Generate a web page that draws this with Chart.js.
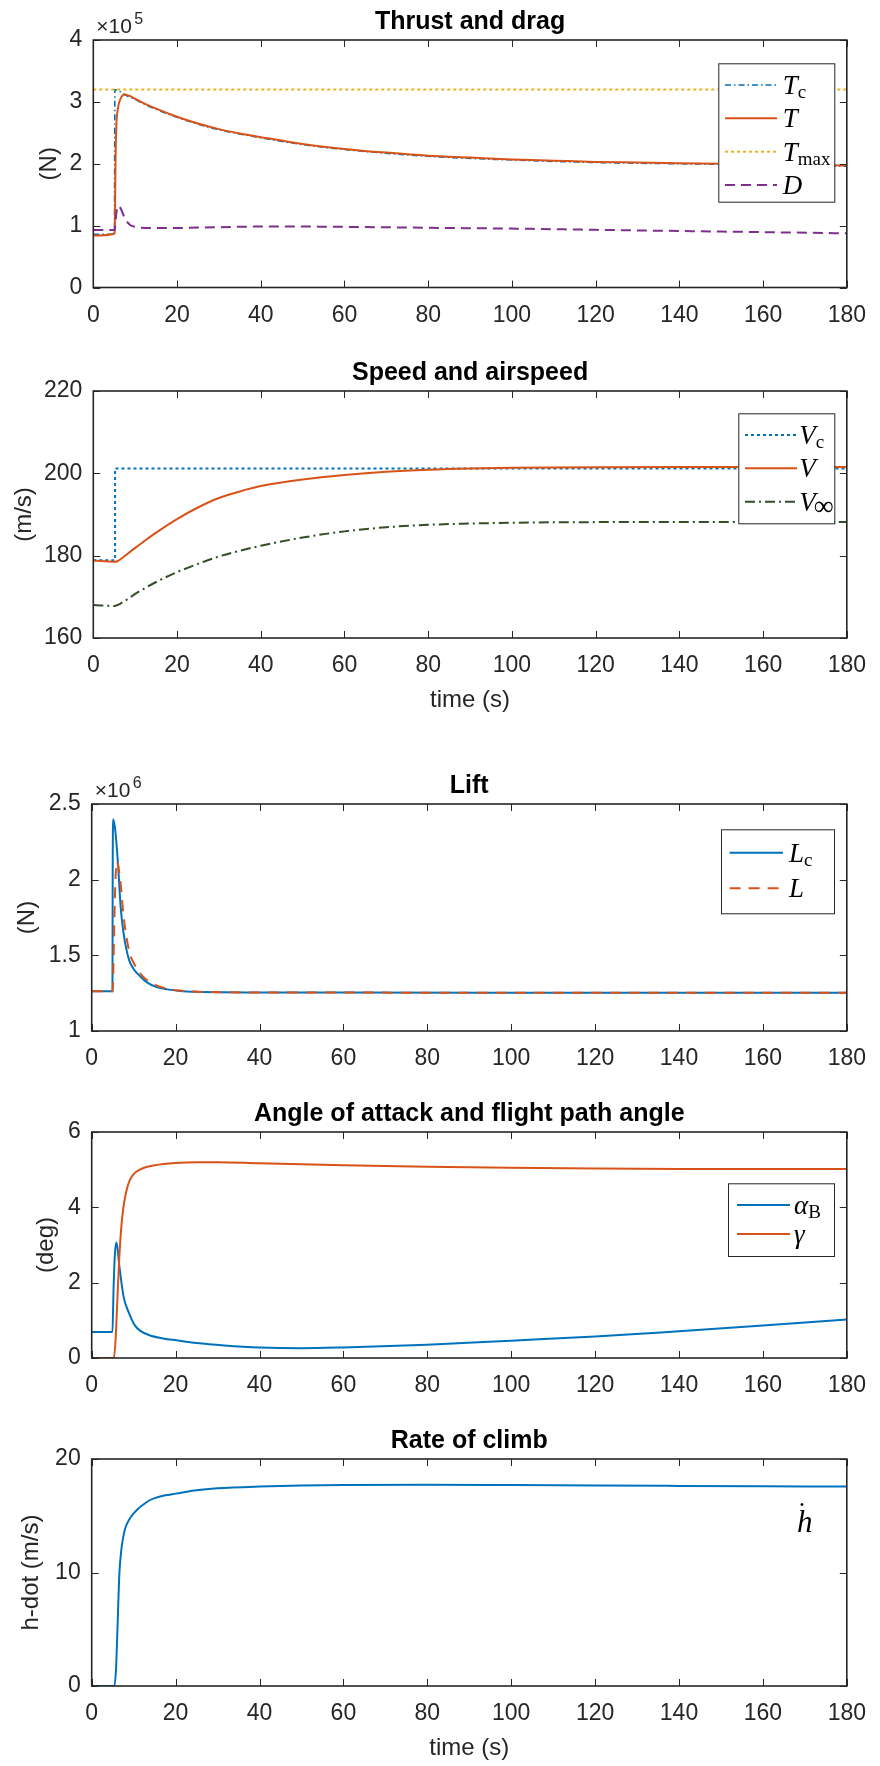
<!DOCTYPE html>
<html>
<head>
<meta charset="utf-8">
<title>Climb response</title>
<script src="https://cdn.jsdelivr.net/npm/chart.js@4.4.1/dist/chart.umd.min.js"></script>
<style>
  html, body { margin: 0; padding: 0; background: #fff; }
  body { width: 880px; height: 1766px; position: relative; overflow: hidden; }
  canvas { position: absolute; left: 0; }
</style>
</head>
<body>
<canvas id="thrust"></canvas>
<canvas id="speed"></canvas>
<canvas id="lift"></canvas>
<canvas id="angles"></canvas>
<canvas id="climb"></canvas>
<script>
/* ---- shared ticks ---- */
const timeTicks = [0, 20, 40, 60, 80, 100, 120, 140, 160, 180];

/* ---- Thrust and drag (x1e5 N) ---- */
const thrustTicks = [0, 1, 2, 3, 4];
const tThrustCmd = [0, 5.05, 5.15, 5.6, 6.3, 7, 8, 10, 12, 15, 20, 25, 30, 40, 50, 60, 80, 100, 120, 140, 160, 180];
const thrustCmd  = [0.86, 0.86, 3.20, 3.19, 3.17, 3.14, 3.10, 3.04, 2.97, 2.88, 2.75, 2.64, 2.55, 2.42, 2.31, 2.23, 2.12, 2.06, 2.02, 2.00, 1.98, 1.96];
const tThrust = [0, 5.1, 5.15, 5.3, 5.5, 5.9, 6.5, 7.5, 8.5, 10, 12, 15, 20, 25, 30, 35, 40, 50, 60, 70, 80, 90, 100, 110, 120, 130, 140, 150, 160, 170, 180];
const thrust  = [0.84, 0.87, 1.0, 2.0, 2.6, 2.9, 3.05, 3.12, 3.10, 3.05, 2.98, 2.89, 2.76, 2.65, 2.56, 2.49, 2.43, 2.32, 2.24, 2.18, 2.13, 2.10, 2.07, 2.05, 2.03, 2.02, 2.01, 2.00, 1.99, 1.98, 1.97];
const tThrustMax = [0, 180];
const thrustMax  = [3.2, 3.2];
const tDrag = [0, 5.1, 5.5, 6, 6.6, 7.2, 7.8, 8.8, 10, 11.5, 14, 20, 30, 40, 50, 60, 70, 80, 100, 120, 140, 160, 180];
const drag  = [0.93, 0.93, 1.20, 1.32, 1.27, 1.17, 1.09, 1.01, 0.98, 0.965, 0.96, 0.962, 0.975, 0.985, 0.985, 0.98, 0.973, 0.965, 0.952, 0.932, 0.913, 0.895, 0.875];

/* ---- Speed and airspeed (m/s) ---- */
const speedTicks = [160, 180, 200, 220];
const tSpeedCmd = [0, 5.2, 5.2, 180];
const speedCmd  = [178.9, 178.9, 201.2, 201.2];
const tSpeed = [0, 5.2, 6, 7, 8, 10, 12, 15, 20, 25, 30, 35, 40, 50, 60, 70, 80, 90, 100, 120, 140, 160, 180];
const speed  = [178.8, 178.5, 178.8, 179.5, 180.3, 181.9, 183.4, 185.6, 188.9, 191.7, 194.0, 195.6, 196.9, 198.5, 199.6, 200.4, 200.9, 201.2, 201.35, 201.5, 201.55, 201.55, 201.55];
const tAirspeed = [0, 5.2, 6, 7, 8, 10, 12, 15, 20, 25, 30, 35, 40, 50, 60, 70, 80, 90, 100, 120, 140, 160, 180];
const airspeed  = [168.0, 167.8, 168.1, 168.7, 169.3, 170.7, 171.9, 173.6, 176.0, 178.0, 179.8, 181.2, 182.4, 184.4, 185.9, 186.9, 187.5, 187.8, 188.0, 188.15, 188.2, 188.2, 188.2];

/* ---- Lift (x1e6 N) ---- */
const liftTicks = [1, 1.5, 2, 2.5];
const tLiftCmd = [0, 4.95, 5.0, 5.1, 5.6, 6.3, 6.9, 7.6, 8.9, 10, 11.6, 13, 15.5, 18, 21, 25, 31, 40, 60, 100, 140, 180];
const liftCmd  = [1.263, 1.263, 2.0, 2.40, 2.33, 2.09, 1.82, 1.645, 1.47, 1.41, 1.36, 1.325, 1.29, 1.275, 1.265, 1.259, 1.256, 1.255, 1.254, 1.253, 1.253, 1.252];
const tLift = [0, 5.0, 5.3, 5.6, 6.0, 6.4, 6.9, 7.6, 8.9, 10, 11.6, 13, 15.5, 18, 21, 25, 31, 40, 60, 100, 140, 180];
const lift  = [1.263, 1.263, 1.6, 1.95, 2.12, 2.08, 1.97, 1.76, 1.53, 1.45, 1.38, 1.34, 1.30, 1.28, 1.267, 1.26, 1.256, 1.255, 1.254, 1.253, 1.253, 1.252];

/* ---- Angle of attack and flight path angle (deg) ---- */
const angleTicks = [0, 2, 4, 6];
const tAlpha = [0, 4.95, 5.2, 5.5, 5.9, 6.6, 7.6, 8.9, 10.2, 11.6, 14.1, 17, 20.2, 25, 31.6, 40, 50, 60, 80, 100, 120, 140, 160, 180];
const alpha  = [0.69, 0.69, 1.8, 2.7, 3.07, 2.43, 1.63, 1.19, 0.88, 0.72, 0.59, 0.52, 0.47, 0.40, 0.335, 0.28, 0.26, 0.28, 0.35, 0.46, 0.57, 0.71, 0.86, 1.02];
const tGamma = [0, 5.3, 5.7, 6.1, 6.5, 7, 7.5, 8.2, 9, 10, 11.5, 13, 15, 20, 25, 30, 40, 60, 80, 100, 120, 140, 180];
const gamma  = [0, 0, 0.5, 1.5, 2.5, 3.4, 3.95, 4.4, 4.7, 4.88, 5.0, 5.07, 5.12, 5.18, 5.2, 5.2, 5.17, 5.12, 5.08, 5.05, 5.03, 5.02, 5.02];

/* ---- Rate of climb (m/s) ---- */
const climbTicks = [0, 10, 20];
const tClimb = [0, 5.4, 5.8, 6.1, 6.6, 7.0, 7.4, 8, 9, 10, 11, 12, 13.5, 15, 17.5, 20, 25, 30, 40, 50, 60, 80, 100, 120, 140, 160, 180];
const climb  = [0, 0, 1.5, 4.6, 9.9, 11.8, 12.9, 13.9, 14.7, 15.2, 15.6, 15.9, 16.3, 16.55, 16.8, 16.95, 17.25, 17.42, 17.58, 17.67, 17.72, 17.73, 17.7, 17.66, 17.63, 17.6, 17.57];
const climbLabelAt = [170, 13.6];

const SANS = '"Liberation Sans", Arial, Helvetica, sans-serif';
const SERIF = '"Liberation Serif", "Times New Roman", serif';
const AXIS_COLOR = '#262626';

function pts(ts, vs) {
  return ts.map((t, i) => ({ x: t, y: vs[i] }));
}

function line(label, ts, vs, color, extra) {
  return Object.assign({
    label: label,
    data: pts(ts, vs),
    borderColor: color,
    borderWidth: 2,
    pointRadius: 0,
    fill: false,
    cubicInterpolationMode: 'monotone'
  }, extra || {});
}

// legend entries, math-style labels in serif italic
function drawLegend(chart, lg, top0) {
  const ctx = chart.ctx;
  const [x0, y0, x1, y1] = lg.box;
  ctx.save();
  ctx.fillStyle = '#fff';
  ctx.fillRect(x0, y0 - top0, x1 - x0, y1 - y0);
  ctx.strokeStyle = AXIS_COLOR;
  ctx.lineWidth = 1;
  ctx.strokeRect(x0 + 0.5, y0 - top0 + 0.5, x1 - x0, y1 - y0);
  lg.rows.forEach((ry, i) => {
    const it = lg.items[i];
    const ds = chart.data.datasets[it.ds];
    const y = ry - top0;
    ctx.save();
    ctx.strokeStyle = ds.borderColor;
    ctx.lineWidth = ds.borderWidth;
    ctx.setLineDash(ds.borderDash || []);
    ctx.beginPath();
    ctx.moveTo(lg.line[0], y);
    ctx.lineTo(lg.line[1], y);
    ctx.stroke();
    ctx.restore();
    ctx.fillStyle = '#000';
    ctx.textAlign = 'left';
    ctx.textBaseline = 'alphabetic';
    ctx.font = 'italic 27px ' + SERIF;
    ctx.fillText(it.main, lg.textX, y + 9);
    const w = ctx.measureText(it.main).width;
    if (it.sub) {
      ctx.font = (it.subSize || 19) + 'px ' + SERIF;
      ctx.fillText(it.sub, lg.textX + w + (it.subDx || 0), y + 13 + (it.subDy || 0));
    }
  });
  ctx.restore();
}

// MATLAB-like boxed axes, titles and labels
const matlabFrame = {
  id: 'matlabFrame',
  afterDatasetsDraw(chart, args, o) {
    const { ctx, chartArea: a, scales } = chart;
    ctx.save();
    ctx.strokeStyle = AXIS_COLOR;
    ctx.lineWidth = 1;
    ctx.beginPath();
    scales.x.ticks.forEach(t => {
      const px = Math.round(scales.x.getPixelForValue(t.value)) + 0.5;
      ctx.moveTo(px, a.bottom); ctx.lineTo(px, a.bottom - 7);
      ctx.moveTo(px, a.top); ctx.lineTo(px, a.top + 7);
    });
    scales.y.ticks.forEach(t => {
      const py = Math.round(scales.y.getPixelForValue(t.value)) + 0.5;
      ctx.moveTo(a.left, py); ctx.lineTo(a.left + 7, py);
      ctx.moveTo(a.right, py); ctx.lineTo(a.right - 7, py);
    });
    ctx.stroke();
    ctx.lineWidth = 1.6;
    ctx.strokeRect(a.left, a.top, a.right - a.left, a.bottom - a.top);
    ctx.restore();

    if (o.legend) drawLegend(chart, o.legend, o.canvasTop);

    if (o.note) {
      const nx = scales.x.getPixelForValue(o.note.at[0]);
      const ny = scales.y.getPixelForValue(o.note.at[1]);
      ctx.save();
      ctx.fillStyle = '#000';
      ctx.textAlign = 'center';
      ctx.textBaseline = 'alphabetic';
      ctx.font = 'italic 31px ' + SERIF;
      ctx.fillText(o.note.text, nx, ny);
      ctx.font = '28px ' + SERIF;
      ctx.fillText('\u02D9', nx - 3, ny - 11);
      ctx.restore();
    }
  },
  afterDraw(chart, args, o) {
    const { ctx, chartArea: a } = chart;
    const cx = (a.left + a.right) / 2;
    ctx.save();
    ctx.fillStyle = '#000';
    ctx.textAlign = 'center';
    ctx.textBaseline = 'middle';
    ctx.font = 'bold 25px ' + SANS;
    ctx.fillText(o.title, cx, a.top - 18);

    ctx.fillStyle = AXIS_COLOR;
    ctx.font = '24px ' + SANS;
    if (o.xLabel) ctx.fillText(o.xLabel, cx, a.bottom + 62);

    ctx.save();
    ctx.translate(o.yLabelX, (a.top + a.bottom) / 2);
    ctx.rotate(-Math.PI / 2);
    ctx.fillText(o.yLabel, 0, 0);
    ctx.restore();

    if (o.exponent) {
      ctx.textAlign = 'left';
      ctx.textBaseline = 'alphabetic';
      ctx.font = '21px ' + SANS;
      ctx.fillText('\u00D710', a.left + 3, a.top - 7);
      ctx.font = '16px ' + SANS;
      ctx.fillText(o.exponent, a.left + 41, a.top - 16);
    }
    ctx.restore();
  }
};

function makePanel(p) {
  const canvasTop = Math.max(0, Math.floor(p.top - 45));
  const H = Math.ceil(p.bottom + 80 - canvasTop);
  const xH = H - (p.bottom - canvasTop);
  const cv = document.getElementById(p.id);
  cv.width = 880;
  cv.height = H;
  cv.style.top = canvasTop + 'px';
  cv.style.width = '880px';
  cv.style.height = H + 'px';

  const tickFont = { family: SANS, size: 23 };
  p.frame.canvasTop = canvasTop;

  return new Chart(cv, {
    type: 'line',
    data: { datasets: p.datasets },
    options: {
      responsive: false,
      animation: false,
      devicePixelRatio: 1,
      layout: { padding: { top: p.top - canvasTop, right: 880 - p.right, left: 0, bottom: 0 } },
      plugins: {
        legend: { display: false },
        tooltip: { enabled: false },
        matlabFrame: p.frame
      },
      scales: {
        x: {
          type: 'linear',
          min: 0,
          max: 180,
          afterBuildTicks: s => { s.ticks = timeTicks.map(v => ({ value: v })); },
          afterFit: s => { s.height = xH; },
          ticks: { font: tickFont, color: AXIS_COLOR, padding: 14, maxRotation: 0, autoSkip: false, callback: v => String(v) },
          grid: { display: false, drawTicks: false },
          border: { display: false }
        },
        y: {
          type: 'linear',
          min: p.yTicks[0],
          max: p.yTicks[p.yTicks.length - 1],
          afterBuildTicks: s => { s.ticks = p.yTicks.map(v => ({ value: v })); },
          afterFit: s => { s.width = p.left; },
          ticks: { font: tickFont, color: AXIS_COLOR, padding: 11, callback: v => String(v) },
          grid: { display: false, drawTicks: false },
          border: { display: false }
        }
      }
    },
    plugins: [matlabFrame]
  });
}

const BLUE = '#0072BD', ORANGE = '#D95319', YELLOW = '#EDB120', PURPLE = '#7E2F8E', GREEN = '#334D26';

makePanel({
  id: 'thrust', left: 93.3, right: 857.3, top: 40, bottom: 287.5,
  yTicks: thrustTicks,
  datasets: [
    line('Tc', tThrustCmd, thrustCmd, BLUE, { borderWidth: 1.6, borderDash: [6, 3, 1.5, 3], order: 4 }),
    line('T', tThrust, thrust, ORANGE, { order: 3 }),
    line('Tmax', tThrustMax, thrustMax, YELLOW, { borderDash: [3, 3], order: 2, cubicInterpolationMode: 'default' }),
    line('D', tDrag, drag, PURPLE, { borderDash: [10, 6], order: 1 })
  ],
  frame: {
    title: 'Thrust and drag', yLabel: '(N)', yLabelX: 49, exponent: '5',
    legend: {
      box: [718.3, 63.3, 834.3, 201.7], line: [725, 777], textX: 782.7,
      rows: [85, 118.3, 151.7, 185],
      items: [
        { ds: 0, main: 'T', sub: 'c' },
        { ds: 1, main: 'T' },
        { ds: 2, main: 'T', sub: 'max' },
        { ds: 3, main: 'D' }
      ]
    }
  }
});

makePanel({
  id: 'speed', left: 93.3, right: 857.3, top: 391, bottom: 638,
  yTicks: speedTicks,
  datasets: [
    line('Vc', tSpeedCmd, speedCmd, BLUE, { borderDash: [3, 3], order: 3, cubicInterpolationMode: 'default' }),
    line('V', tSpeed, speed, ORANGE, { order: 2 }),
    line('Vinf', tAirspeed, airspeed, GREEN, { borderDash: [10, 4, 2, 4], order: 1 })
  ],
  frame: {
    title: 'Speed and airspeed', yLabel: '(m/s)', yLabelX: 24, xLabel: 'time (s)',
    legend: {
      box: [738.3, 413.3, 834.3, 523.3], line: [745, 797], textX: 799.3,
      rows: [435, 468.3, 501.7],
      items: [
        { ds: 0, main: 'V', sub: 'c' },
        { ds: 1, main: 'V' },
        { ds: 2, main: 'V', sub: '\u221E', subSize: 28, subDx: -2, subDy: 0 }
      ]
    }
  }
});

makePanel({
  id: 'lift', left: 91.7, right: 855.9, top: 804, bottom: 1031,
  yTicks: liftTicks,
  datasets: [
    line('Lc', tLiftCmd, liftCmd, BLUE, { order: 2 }),
    line('L', tLift, lift, ORANGE, { borderDash: [11, 8], order: 1 })
  ],
  frame: {
    title: 'Lift', yLabel: '(N)', yLabelX: 27, exponent: '6',
    legend: {
      box: [721, 829.3, 834, 913.3], line: [729.6, 783], textX: 789,
      rows: [852.7, 888.3],
      items: [
        { ds: 0, main: 'L', sub: 'c' },
        { ds: 1, main: 'L' }
      ]
    }
  }
});

makePanel({
  id: 'angles', left: 91.7, right: 855.9, top: 1132, bottom: 1358,
  yTicks: angleTicks,
  datasets: [
    line('alphaB', tAlpha, alpha, BLUE, { order: 2 }),
    line('gamma', tGamma, gamma, ORANGE, { order: 1 })
  ],
  frame: {
    title: 'Angle of attack and flight path angle', yLabel: '(deg)', yLabelX: 46.5,
    legend: {
      box: [728, 1183.3, 834, 1256], line: [737, 790], textX: 794,
      rows: [1205, 1234],
      items: [
        { ds: 0, main: '\u03B1', sub: 'B' },
        { ds: 1, main: '\u03B3' }
      ]
    }
  }
});

makePanel({
  id: 'climb', left: 91.7, right: 855.9, top: 1459, bottom: 1686,
  yTicks: climbTicks,
  datasets: [
    line('hdot', tClimb, climb, BLUE)
  ],
  frame: {
    title: 'Rate of climb', yLabel: 'h-dot (m/s)', yLabelX: 31, xLabel: 'time (s)',
    note: { text: 'h', at: climbLabelAt }
  }
});
</script>
</body>
</html>
